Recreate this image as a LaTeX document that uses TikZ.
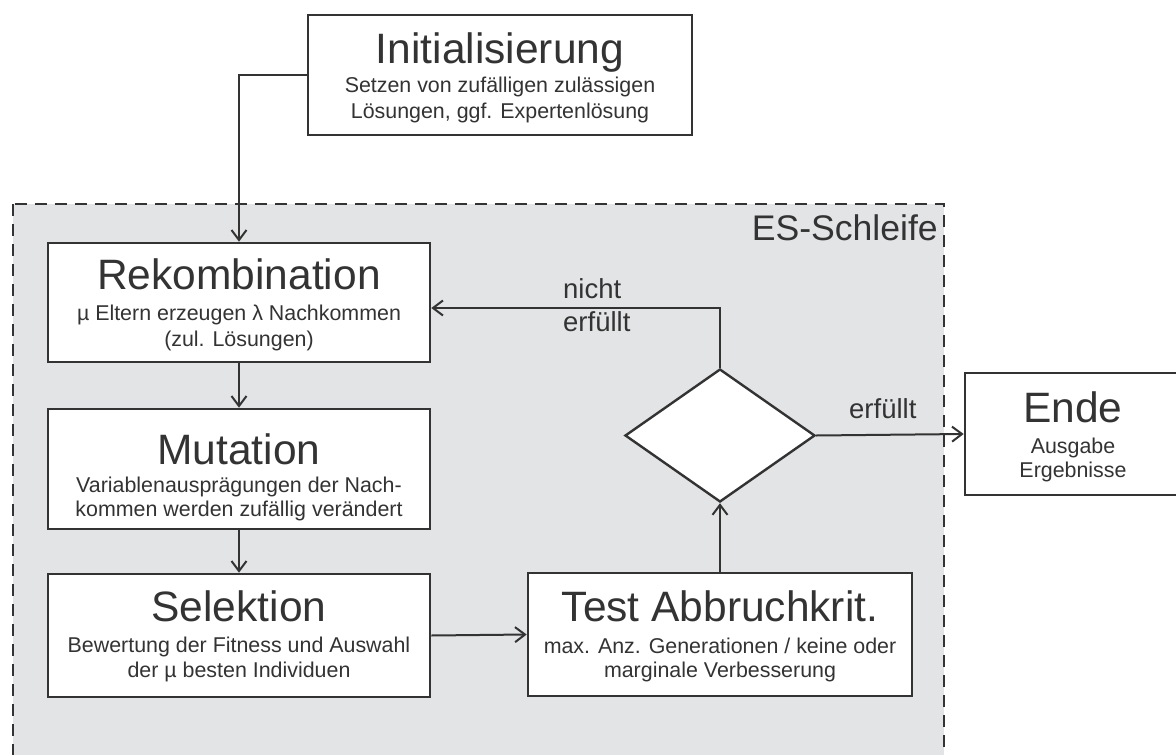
\documentclass[tikz,border=0pt]{standalone}
\usepackage{fontspec}
\setmainfont{Liberation Sans}
\usetikzlibrary{arrows.meta,shapes.geometric}
\definecolor{ink}{HTML}{333333}
\definecolor{bg}{HTML}{E3E4E6}
\begin{document}
\begin{tikzpicture}[x=1pt,y=-1pt,
  box/.style={draw=ink, line width=2.6pt, fill=white, inner sep=0pt},
  ttl/.style={text=ink, font=\fontsize{42.5}{48}\selectfont, anchor=base, inner sep=0pt},
  sub/.style={text=ink, font=\fontsize{21.4}{26}\selectfont, anchor=base, inner sep=0pt},
  lbl/.style={text=ink, font=\fontsize{27.5}{32}\selectfont, inner sep=0pt},
  conn/.style={draw=ink, line width=2pt},
  arr/.style={conn, -{Straight Barb[length=10pt,width=15pt,line width=2pt]}}]
\useasboundingbox (0,0) rectangle (1176,755);
\clip (0,0) rectangle (1176,755);
\fill[white] (0,0) rectangle (1176,755);

% ES loop region
\path[fill=bg, draw=ink, line width=2.2pt, dash pattern=on 12pt off 8pt] (13,204) rectangle (944,790);
\node[text=ink, font=\fontsize{35.6}{40}\selectfont, anchor=base east, inner sep=0pt] (es) at (938,240) {ES-Schleife};

% boxes
\node[box, minimum width=384pt, minimum height=120pt] (init) at (500,75) {};
\node[box, minimum width=382pt, minimum height=119pt] (rek) at (239,302.5) {};
\node[box, minimum width=382pt, minimum height=120pt] (mut) at (239,469) {};
\node[box, minimum width=382pt, minimum height=123pt] (sel) at (239,635.5) {};
\node[box, minimum width=384pt, minimum height=123pt] (test) at (720,634.5) {};
\node[box, minimum width=216pt, minimum height=122pt] (ende) at (1073,434) {};
\node[draw=ink, line width=2.4pt, fill=white, diamond, minimum width=190pt, minimum height=133pt, inner sep=0pt] (dia) at (720,435.5) {};

% texts
\node[ttl] (initT) at (500,63) {Initialisierung};
\node[sub] (initS1) at (500,92) {Setzen von zufälligen zulässigen};
\node[sub] (initS2) at (500,118) {Lösungen, ggf. Expertenlösung};

\node[ttl] (rekT) at (239,289) {Rekombination};
\node[sub] (rekS1) at (239,320) {µ Eltern erzeugen λ Nachkommen};
\node[sub] (rekS2) at (239,346) {(zul. Lösungen)};

\node[ttl] (mutT) at (239,464) {Mutation};
\node[sub] (mutS1) at (239,492) {Variablenausprägungen der Nach-};
\node[sub] (mutS2) at (239,516) {kommen werden zufällig verändert};

\node[ttl] (selT) at (239,621) {Selektion};
\node[sub] (selS1) at (239,652) {Bewertung der Fitness und Auswahl};
\node[sub] (selS2) at (239,677) {der µ besten Individuen};

\node[ttl] (testT) at (720,621) {Test Abbruchkrit.};
\node[sub] (testS1) at (720,653) {max. Anz. Generationen / keine oder};
\node[sub] (testS2) at (720,677) {marginale Verbesserung};

\node[ttl] (endeT) at (1073,422) {Ende};
\node[sub] (endeS1) at (1073,453) {Ausgabe};
\node[sub] (endeS2) at (1073,477) {Ergebnisse};

% connectors
\draw[arr] (init.west) -| (rek.north);
\draw[arr] (rek.south) -- (mut.north);
\draw[arr] (mut.south) -- (sel.north);
\draw[arr] (sel.east) -- (test.west);
\draw[arr] (test.north) -- (dia.south);
\draw[arr] (dia.north) |- ([yshift=-5.5pt]rek.east);
\draw[arr] (dia.east) -- (ende.west);

% labels
\node[lbl, anchor=base west] (nicht) at (563,298) {nicht};
\node[lbl, anchor=base west] (nerf) at (563,331) {erfüllt};
\node[lbl, anchor=base west] (erf) at (849,418) {erfüllt};
\end{tikzpicture}
\end{document}
